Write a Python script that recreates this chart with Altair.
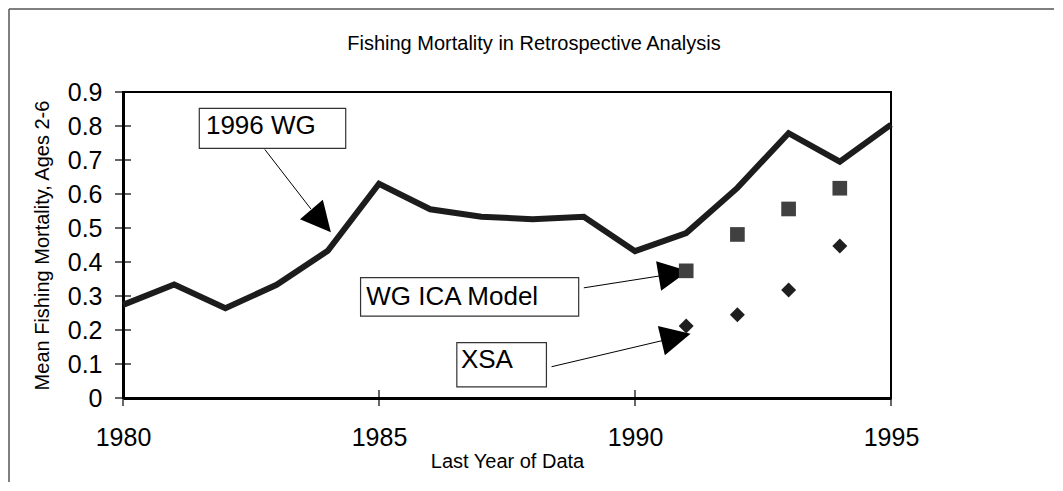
import altair as alt
import pandas as pd

# ---- data ----
years = list(range(1980, 1996))
wg1996 = [0.274, 0.334, 0.264, 0.333, 0.433, 0.630, 0.555, 0.533, 0.526, 0.533,
          0.432, 0.485, 0.618, 0.779, 0.695, 0.804]
retro_years = [1991, 1992, 1993, 1994]
ica_values = [0.374, 0.481, 0.556, 0.617]
xsa_values = [0.212, 0.245, 0.318, 0.447]

x_ticks = [1980, 1985, 1990, 1995]
y_ticks = [0, 0.1, 0.2, 0.3, 0.4, 0.5, 0.6, 0.7, 0.8, 0.9]

# annotation labels (boxes, texts, arrows) in data coordinates
ann_labels = ["1996 WG", "WG ICA Model", "XSA"]
ann_box_x1 = [1981.49, 1984.64, 1986.52]
ann_box_x2 = [1984.35, 1988.90, 1988.27]
ann_box_y1 = [0.852, 0.354, 0.163]
ann_box_y2 = [0.734, 0.241, 0.033]
ann_text_x = [1981.62, 1984.75, 1986.60]
ann_text_y = [0.776, 0.274, 0.087]
arrow_x1 = [1982.77, 1989.00, 1988.37]
arrow_y1 = [0.731, 0.324, 0.092]
arrow_x2 = [1983.67, 1990.48, 1990.54]
arrow_y2 = [0.556, 0.359, 0.169]
head_x = [1983.87, 1990.75, 1990.80]
head_y = [0.521, 0.366, 0.179]
head_angle = [139.5, 80.4, 76.5]

FONT = "Liberation Sans"
W, H = 768, 306
PAD_L, PAD_T, PAD_R, PAD_B = 115, 84, 163, 84

xs = alt.Scale(domain=[1980, 1995], nice=False, zero=False)
ys = alt.Scale(domain=[0, 0.9], nice=False, zero=True)

xa = alt.Axis(
    values=x_ticks, format="d", ticks=False, grid=False,
    domainColor="black", domainWidth=3,
    labelFont=FONT, labelFontSize=25, labelColor="black",
    labelPadding=47, labelBaseline="alphabetic", labelFlush=False, labelOverlap=False,
    title="Last Year of Data", titleFont=FONT, titleFontSize=20,
    titleFontWeight="normal", titleColor="black",
    titleX=384, titleY=69, titleBaseline="alphabetic", titleAlign="center")
ya = alt.Axis(
    values=y_ticks, format=".1~f", ticks=False, grid=False,
    domainColor="black", domainWidth=3,
    labelFont=FONT, labelFontSize=25, labelColor="black", labelPadding=21,
    labelFlush=False, labelOverlap=False,
    title="Mean Fishing Mortality, Ages 2-6", titleFont=FONT, titleFontSize=20,
    titleFontWeight="normal", titleColor="black",
    titleX=-81, titleY=153, titleAngle=270, titleBaseline="middle", titleAlign="center")


def X(f):
    return alt.X(f, scale=xs, axis=xa)


def Y(f):
    return alt.Y(f, scale=ys, axis=ya)


line_df = pd.DataFrame({"year": years, "F": wg1996})
ica_df = pd.DataFrame({"year": retro_years, "F": ica_values})
xsa_df = pd.DataFrame({"year": retro_years, "F": xsa_values})
ann_df = pd.DataFrame({
    "label": ann_labels, "bx1": ann_box_x1, "bx2": ann_box_x2,
    "by1": ann_box_y1, "by2": ann_box_y2, "tx": ann_text_x, "ty": ann_text_y,
    "ax1": arrow_x1, "ay1": arrow_y1, "ax2": arrow_x2, "ay2": arrow_y2,
    "hx": head_x, "hy": head_y, "ang": head_angle,
})
xt_df = pd.DataFrame({"v": x_ticks})
yt_df = pd.DataFrame({"v": y_ticks})

line = alt.Chart(line_df).mark_line(color="#1c1c1c", strokeWidth=6, strokeJoin="miter").encode(
    x=X("year:Q"), y=Y("F:Q"))

ica = alt.Chart(ica_df).mark_point(shape="square", filled=True, color="#404040", size=215, opacity=1).encode(
    x=X("year:Q"), y=Y("F:Q"))
xsa = alt.Chart(xsa_df).mark_point(shape="diamond", filled=True, color="#1f1f1f", size=225, opacity=1).encode(
    x=X("year:Q"), y=Y("F:Q"))

arrows = alt.Chart(ann_df).mark_rule(color="black", strokeWidth=1).encode(
    x=X("ax1:Q"), y=Y("ay1:Q"), x2="ax2:Q", y2="ay2:Q")
heads = alt.Chart(ann_df).mark_point(shape="M0,-1L-1,1L1,1Z", filled=True, color="black",
                                     size=900, opacity=1).encode(
    x=X("hx:Q"), y=Y("hy:Q"), angle=alt.Angle("ang:Q", scale=None))
boxes = alt.Chart(ann_df).mark_rect(fill="white", stroke="#333333", strokeWidth=1.2).encode(
    x=X("bx1:Q"), x2="bx2:Q", y=Y("by1:Q"), y2="by2:Q")
texts = alt.Chart(ann_df).mark_text(font=FONT, fontSize=26, color="black", align="left",
                                    baseline="alphabetic").encode(
    x=X("tx:Q"), y=Y("ty:Q"), text="label:N")

ytick_marks = alt.Chart(yt_df).mark_rule(color="black", strokeWidth=1.2).encode(
    y=Y("v:Q"), x=alt.value(-8), x2=alt.value(8))
xtick_marks = alt.Chart(xt_df).mark_rule(color="black", strokeWidth=1.2).encode(
    x=X("v:Q"), y=alt.value(H - 8), y2=alt.value(H + 8))

title = alt.Chart(pd.DataFrame({"t": ["Fishing Mortality in Retrospective Analysis"]})).mark_text(
    font=FONT, fontSize=20, color="black", align="center", baseline="alphabetic").encode(
    text="t:N", x=alt.value(411), y=alt.value(-42))

frame_top = alt.Chart(pd.DataFrame({"a": [0]})).mark_rule(color="#555555", strokeWidth=1.5).encode(
    x=alt.value(-PAD_L + 1), x2=alt.value(W + PAD_R), y=alt.value(-PAD_T + 1))
frame_left = alt.Chart(pd.DataFrame({"a": [0]})).mark_rule(color="#555555", strokeWidth=1.5).encode(
    x=alt.value(-PAD_L + 1), y=alt.value(-PAD_T + 1), y2=alt.value(H + PAD_B))

chart = alt.layer(
    frame_top, frame_left, line, arrows, heads, ica, xsa, boxes, texts,
    ytick_marks, xtick_marks, title,
).properties(
    width=W, height=H,
    autosize=alt.AutoSizeParams(type="none"),
    padding={"left": PAD_L, "top": PAD_T, "right": PAD_R, "bottom": PAD_B},
    background="white",
).configure_view(
    stroke="black", strokeWidth=2
)

chart.save("out.html", embed_options={"renderer": "svg", "actions": False})
